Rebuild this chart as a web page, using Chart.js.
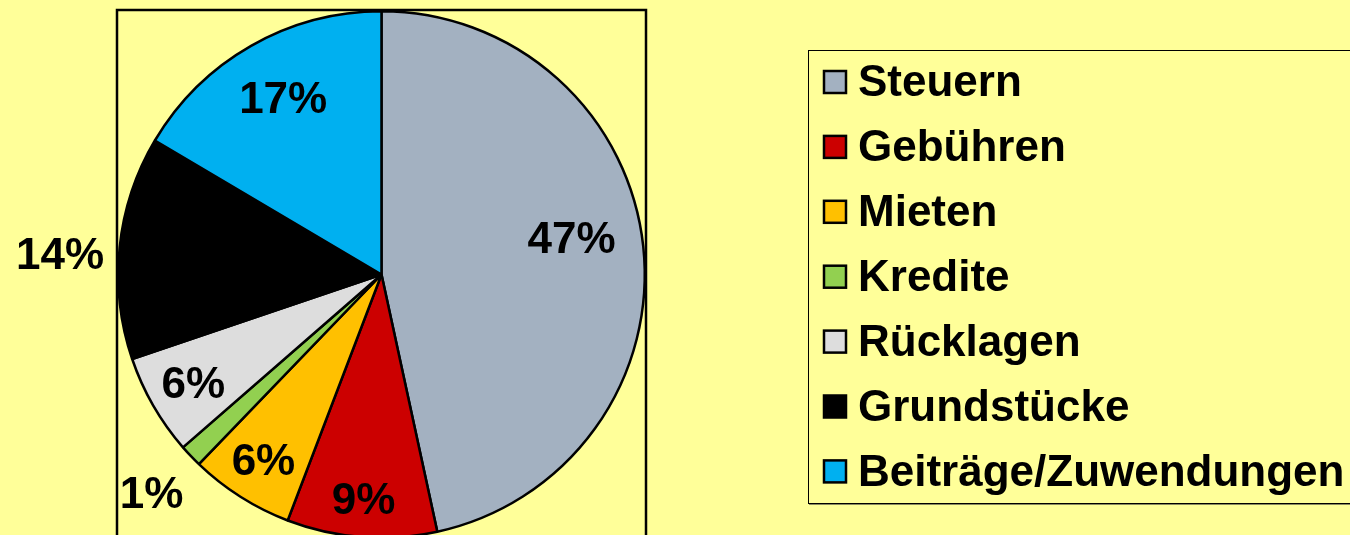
<!DOCTYPE html>
<html>
<head>
<meta charset="utf-8">
<script src="https://cdn.jsdelivr.net/npm/chart.js@4/dist/chart.umd.min.js"></script>
<style>
  html, body { margin: 0; padding: 0; background: #FFFF99; overflow: hidden; width: 1350px; height: 535px; }
  #wrap { position: absolute; left: 0; top: 0; width: 1350px; height: 545px; }
</style>
</head>
<body>
<div id="wrap"><canvas id="c" width="1350" height="545"></canvas></div>
<script>
// ---- data ----
const categories = ['Steuern', 'Gebühren', 'Mieten', 'Kredite', 'Rücklagen', 'Grundstücke', 'Beiträge/Zuwendungen'];
const shares = [46.6, 9.2, 6.4, 1.4, 6.2, 13.7, 16.5];
const sliceColors = ['#A3B1C1', '#CC0000', '#FFC000', '#92D050', '#DDDDDD', '#000000', '#00B0F0'];

const FONT = '"Liberation Sans", Arial, Helvetica, sans-serif';

// label placement (radial factor, angle nudge in degrees) — layout only
const labelRadial = [0.74, 0.85, 0.83, 1.2, 0.82, 1.22, 0.77];
const labelAngleNudge = [-5, 0, 0, 0, 0, -2, 1];

const framePlugin = {
  id: 'frame',
  beforeDatasetsDraw(chart) {
    const { ctx, chartArea } = chart;
    ctx.save();
    ctx.strokeStyle = '#000';
    ctx.lineWidth = 2.5;
    ctx.strokeRect(chartArea.left, chartArea.top, chartArea.right - chartArea.left, chartArea.bottom - chartArea.top + 20);
    ctx.restore();
  }
};

const labelPlugin = {
  id: 'sliceLabels',
  afterDatasetsDraw(chart) {
    const { ctx } = chart;
    const meta = chart.getDatasetMeta(0);
    const vals = chart.data.datasets[0].data;
    const total = vals.reduce((a, b) => a + b, 0);
    ctx.save();
    ctx.font = 'bold 44px ' + FONT;
    ctx.fillStyle = '#000';
    ctx.textAlign = 'center';
    ctx.textBaseline = 'middle';
    meta.data.forEach((arc, i) => {
      const p = arc.getProps(['x', 'y', 'startAngle', 'endAngle', 'outerRadius'], true);
      const mid = (p.startAngle + p.endAngle) / 2 + labelAngleNudge[i] * Math.PI / 180;
      const r = p.outerRadius * labelRadial[i];
      const tx = p.x + Math.cos(mid) * r;
      const ty = p.y + Math.sin(mid) * r;
      ctx.fillText(Math.round(vals[i] / total * 100) + '%', tx - 1, ty + 4);
    });
    ctx.restore();
  }
};

const legendPlugin = {
  id: 'boxLegend',
  afterDraw(chart) {
    const { ctx } = chart;
    const ds = chart.data.datasets[0];
    const left = 808, top = 50, bottom = 503;
    ctx.save();
    // shadow
    ctx.strokeStyle = '#8a8a60';
    ctx.lineWidth = 1;
    ctx.beginPath();
    ctx.moveTo(left + 1, bottom + 1.5);
    ctx.lineTo(1360, bottom + 1.5);
    ctx.stroke();
    ctx.strokeStyle = '#000';
    ctx.lineWidth = 1;
    ctx.strokeRect(left + 0.5, top + 0.5, 1400 - left, bottom - top);
    const rowH = 64.9;
    ctx.font = 'bold 44px ' + FONT;
    ctx.textAlign = 'left';
    ctx.textBaseline = 'middle';
    chart.data.labels.forEach((lab, i) => {
      const cy = 82 + i * rowH;
      ctx.fillStyle = ds.backgroundColor[i];
      ctx.fillRect(824, cy - 11, 22, 22);
      ctx.strokeStyle = '#000';
      ctx.lineWidth = 2.5;
      ctx.strokeRect(824, cy - 11, 22, 22);
      ctx.fillStyle = '#000';
      ctx.fillText(lab, 858, cy + 2);
    });
    ctx.restore();
  }
};

new Chart(document.getElementById('c'), {
  type: 'pie',
  data: {
    labels: categories,
    datasets: [{
      data: shares,
      backgroundColor: sliceColors,
      borderColor: '#000',
      borderWidth: 2.5
    }]
  },
  options: {
    responsive: false,
    animation: false,
    devicePixelRatio: 1,
    layout: { padding: { left: 117, right: 704, top: 10, bottom: 6 } },
    plugins: {
      legend: { display: false },
      tooltip: { enabled: false },
      title: { display: false }
    }
  },
  plugins: [framePlugin, labelPlugin, legendPlugin]
});
</script>
</body>
</html>
